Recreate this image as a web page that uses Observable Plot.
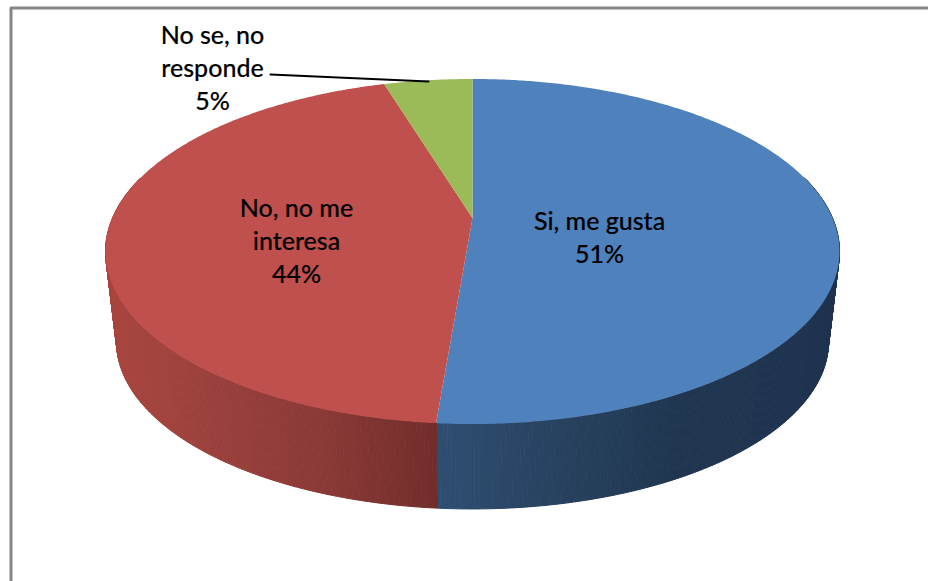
<!DOCTYPE html>
<html><head><meta charset="utf-8">
<script src="https://cdn.jsdelivr.net/npm/d3@7"></script>
<script src="https://cdn.jsdelivr.net/npm/@observablehq/plot@0.6"></script>
<style>html,body{margin:0;padding:0;background:#fff}svg{display:block}</style>
</head><body><div id="chart"></div>
<script>
const categories = ["Si, me gusta", "No, no me\ninteresa", "No se, no\nresponde"];
const shares = [51.3, 44.0, 4.7];
const topColors = ["#4f81bd", "#c0504d", "#9bbb59"];

// Pie layout: a perspective disc, seen from above
const cx = 472.5, apexY = 218, halfW = 360, nearY = 166, persp = 0.194;
const wallScale = 0.97, wallDrop = 97.7;
function topPoint(deg) {
  const t = deg * Math.PI / 180, u = Math.sin(t), v = -Math.cos(t), w = 1 - persp * v;
  return [cx + halfW * u / w, apexY + nearY * v / w];
}
function wallPoint(deg) {
  const [x, y] = topPoint(deg);
  return [cx + (x - cx) * wallScale, y * wallScale + wallDrop];
}
let acc = 0;
const slices = shares.map((s, i) => {
  const a0 = acc * 3.6; acc += s;
  return {i, a0, a1: acc * 3.6};
});

const blueShade = d3.scaleLinear().domain([436, 560, 680, 835]).range(["#2f4e72", "#27425f", "#203650", "#1f3350"]);
const redShade = d3.scaleLinear().domain([112, 200, 320, 436]).range(["#a8453f", "#9c413d", "#8a3a37", "#722d2b"]);
const greenShade = () => "#6f8a3f";
const shades = [blueShade, redShade, greenShade];

const wallRows = [], topRows = [];
let k = 0;
for (const s of slices) {
  const n = Math.ceil((s.a1 - s.a0) * 2);
  for (let j = 0; j < n; j++) {
    const a = s.a0 + (s.a1 - s.a0) * j / n, b = s.a0 + (s.a1 - s.a0) * (j + 1) / n;
    if (Math.cos(a * Math.PI / 180) < 0.25 || Math.cos(b * Math.PI / 180) < 0.25) {
      const [tax, tay] = topPoint(a), [tbx, tby] = topPoint(b), [bax, bay] = wallPoint(a), [bbx, bby] = wallPoint(b);
      const c = shades[s.i]((tax + tbx) / 2);
      wallRows.push({k, x1: tax, y1: tay, x2: bax, y2: bay, c});
      wallRows.push({k, x1: tbx, y1: tby, x2: bbx, y2: bby, c});
      k++;
    }
  }
  for (let j = 0; j <= n; j++) {
    const [x, y] = topPoint(s.a0 + (s.a1 - s.a0) * j / n);
    topRows.push({s: s.i, x1: cx, y1: apexY, x2: x, y2: y, c: topColors[s.i]});
  }
}

const labelRows = [
  {t: categories[0] + "\n" + Math.round(shares[0]) + "%", x: 599, y: 235.5},
  {t: categories[1] + "\n" + Math.round(shares[1]) + "%", x: 296, y: 239},
  {t: categories[2] + "\n" + Math.round(shares[2]) + "%", x: 212, y: 66}
];
const leader = [{x: 270, y: 74}, {x: 428, y: 81}];
const frame = [{x: 10.5, y: 581}, {x: 10.5, y: 7.5}, {x: 928, y: 7.5}];

const chart = Plot.plot({
  width: 928, height: 581,
  margin: 0,
  x: {domain: [0, 928], range: [0, 928], axis: null},
  y: {domain: [0, 581], range: [0, 581], axis: null},
  marks: [
    Plot.line(frame, {x: "x", y: "y", stroke: "#868686", strokeWidth: 3, curve: "linear"}),
    Plot.area(wallRows, {x1: "x1", y1: "y1", x2: "x2", y2: "y2", z: "k", fill: "c", stroke: "c", strokeWidth: 1, curve: "linear"}),
    Plot.area(topRows, {x1: "x1", y1: "y1", x2: "x2", y2: "y2", z: "s", fill: "c", curve: "linear"}),
    Plot.line(leader, {x: "x", y: "y", stroke: "#000", strokeWidth: 2}),
    Plot.text(labelRows, {x: "x", y: "y", text: "t", fontSize: 25, fontFamily: "Lato", fontWeight: 500, lineHeight: 1.33, fill: "#000", stroke: "#000", strokeWidth: 0.15, textAnchor: "middle"})
  ]
});
document.getElementById("chart").append(chart);
</script></body></html>
